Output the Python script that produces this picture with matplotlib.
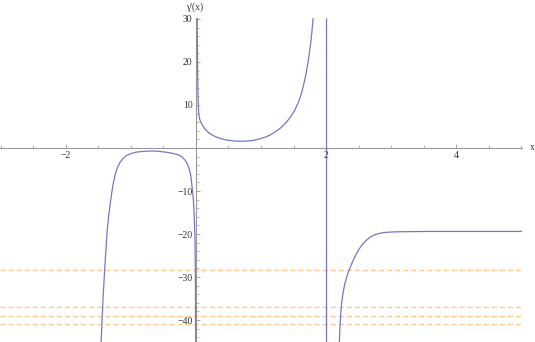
import numpy as np
import matplotlib
matplotlib.use('Agg')
import matplotlib.pyplot as plt
from matplotlib.patches import Rectangle

# --- data ---
left_x = [-1.475, -1.46, -1.43, -1.405, -1.385, -1.365, -1.345, -1.32, -1.295, -1.27,
          -1.24, -1.21, -1.17, -1.12, -1.07, -1.0, -0.93, -0.86, -0.76, -0.66,
          -0.56, -0.45, -0.36, -0.27, -0.22, -0.17, -0.13, -0.10, -0.08, -0.066,
          -0.05, -0.04, -0.03, -0.025, -0.015, -0.008, -0.004]
left_y = [-50, -45.1, -35.0, -28.4, -23.5, -19.1, -16.0, -13.0, -10.3, -8.0,
          -6.0, -4.6, -3.4, -2.4, -1.75, -1.3, -1.0, -0.85, -0.75, -0.7,
          -0.8, -1.0, -1.25, -1.6, -2.0, -2.8, -3.8, -5.1, -6.5, -8.2,
          -10.5, -12.1, -15.0, -16.7, -21.4, -32, -50]

mid_x = [0.012, 0.018, 0.022, 0.027, 0.033, 0.04, 0.05, 0.06, 0.075, 0.088,
         0.11, 0.15, 0.2, 0.25, 0.32, 0.4, 0.47, 0.55, 0.62, 0.7,
         0.78, 0.85, 0.92, 1.0, 1.08, 1.15, 1.22, 1.28, 1.32, 1.38,
         1.45, 1.52, 1.58, 1.62, 1.65, 1.69, 1.73, 1.77, 1.80, 1.83]
mid_y = [40, 30, 22, 16, 11, 8.3, 7.2, 6.5, 6.0, 5.6,
         5.0, 4.2, 3.5, 3.0, 2.5, 2.1, 1.85, 1.7, 1.6, 1.55,
         1.6, 1.7, 1.9, 2.2, 2.6, 3.1, 3.75, 4.4, 4.9, 5.8,
         7.1, 8.8, 10.8, 12.6, 14.3, 17.0, 20.5, 25.0, 29.8, 36]

right_x = [2.195, 2.205, 2.215, 2.227, 2.24, 2.26, 2.285, 2.31, 2.34, 2.37,
           2.41, 2.45, 2.5, 2.55, 2.61, 2.68, 2.76, 2.85, 2.93, 3.05,
           3.24, 3.6, 4.2, 5.02]
right_y = [-48, -45.1, -41.6, -38.6, -36.1, -33.9, -31.9, -30.4, -29.0, -27.8,
           -26.4, -25.1, -23.7, -22.6, -21.6, -20.7, -20.1, -19.75, -19.6, -19.5,
           -19.45, -19.4, -19.4, -19.4]

pole_x = [2.0]

ref_levels = [-28.4, -37.05, -39.1, -41.0]

x_ticks = [-2, 0, 2, 4]
x_tick_labels = ['\u22122', '', '2', '4']
y_ticks = [-40, -30, -20, -10, 0, 10, 20, 30]
y_tick_labels = ['\u221240', '\u221230', '\u221220', '\u221210', '', '10', '20', '30']

# --- plot ---
X0, X1 = -3.015, 5.215
Y0, Y1 = -45.1, 34.4
PX0, PX1 = -3.015, 5.02
PY0, PY1 = -45.1, 30.2

fig = plt.figure(figsize=(5.35, 3.42), dpi=100)
ax = fig.add_axes([0, 0, 1, 1])
ax.set_xlim(X0, X1)
ax.set_ylim(Y0, Y1)
ax.patch.set_alpha(0)

curve_color = '#7676c8'
clip = Rectangle((PX0, PY0), PX1 - PX0, PY1 - PY0, transform=ax.transData)

ax.hlines(ref_levels, PX0, PX1, colors='#ffc890', linewidth=1.0,
          linestyles=(0, (3.6, 2.2)), zorder=1)

for xs, ys in [(left_x, left_y), (mid_x, mid_y), (right_x, right_y)]:
    ln, = ax.plot(xs, ys, color=curve_color, lw=0.9, zorder=3)
    ln.set_clip_path(clip)
vl = ax.vlines(pole_x, PY0, PY1, colors=curve_color, linewidth=0.9, zorder=3)

for s in ['top', 'right']:
    ax.spines[s].set_visible(False)
ax.spines['left'].set_position(('data', 0))
ax.spines['bottom'].set_position(('data', 0))
ax.spines['left'].set_bounds(PY0, PY1)
ax.spines['bottom'].set_bounds(PX0, PX1)
for s in ['left', 'bottom']:
    ax.spines[s].set_color('#999999')
    ax.spines[s].set_linewidth(0.8)
    ax.spines[s].set_zorder(2)

ax.set_xticks(x_ticks)
ax.set_xticklabels(x_tick_labels)
ax.set_yticks(y_ticks)
ax.set_yticklabels(y_tick_labels)
ax.set_xticks(np.arange(-3, 5.01, 0.5), minor=True)
ax.set_yticks(np.arange(-44, 30.1, 2), minor=True)

font = dict(family=['Liberation Serif', 'DejaVu Serif'], size=7)
for lab in ax.get_xticklabels() + ax.get_yticklabels():
    lab.set_fontfamily(font['family'])
    lab.set_fontsize(font['size'])
    lab.set_color('#333333')
ax.tick_params(which='major', direction='in', length=3.2, width=0.6, color='#999999', pad=2.5)
ax.tick_params(which='minor', direction='in', length=2.0, width=0.5, color='#999999')

ax.text(5.17, 0, 'x', ha='center', va='center', color='#333333', **font)
ax.text(-0.02, 32.8, "\u03b3'(x)", ha='center', va='center', color='#333333', **font)

fig.savefig('out.png', dpi=100)
